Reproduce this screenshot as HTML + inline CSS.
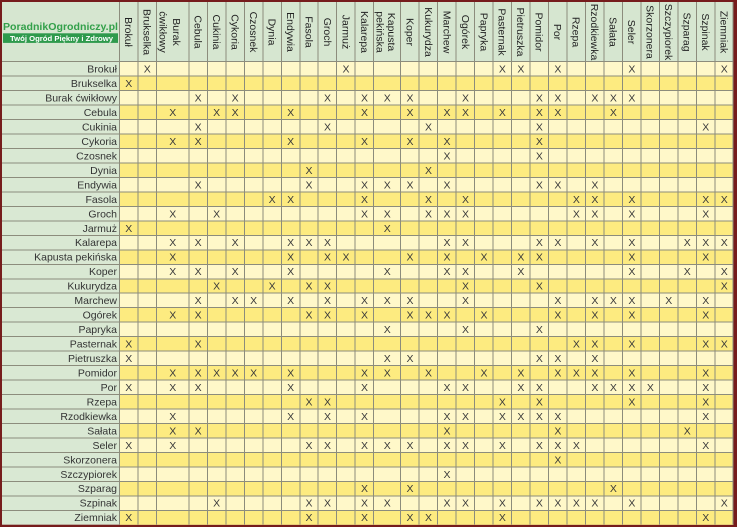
<!DOCTYPE html>
<html><head><meta charset="utf-8"><style>
html,body{margin:0;padding:0;background:#761c1c;}
svg{display:block;font-family:"Liberation Sans",Arial,sans-serif;}
.lbl{font-size:10.5px;fill:#333;text-anchor:end;}
.hd{font-size:10.5px;fill:#222;text-anchor:middle;}
.x{font-size:10.5px;fill:#3a3a3a;text-anchor:middle;}
</style></head><body>
<svg width="737" height="527" viewBox="0 0 737 527" xmlns="http://www.w3.org/2000/svg">
<rect x="0" y="0" width="737" height="527" fill="#761c1c"/>
<!-- header and label column -->
<rect x="2" y="2" width="731.5" height="59.7" fill="#d6e6d0"/>
<rect x="2" y="61.7" width="117.5" height="463" fill="#d9e8d3"/>
<!-- body light -->
<rect x="119.5" y="61.7" width="614" height="463" fill="#fff8c9"/>
<!-- yellow rows -->
<g fill="#fdeb80">
<rect x="119.5" y="76.17" width="614" height="14.47"/>
<rect x="119.5" y="105.11" width="614" height="14.47"/>
<rect x="119.5" y="134.05" width="614" height="14.47"/>
<rect x="119.5" y="162.99" width="614" height="14.47"/>
<rect x="119.5" y="191.93" width="614" height="14.47"/>
<rect x="119.5" y="220.87" width="614" height="14.47"/>
<rect x="119.5" y="249.81" width="614" height="14.47"/>
<rect x="119.5" y="278.75" width="614" height="14.47"/>
<rect x="119.5" y="307.69" width="614" height="14.47"/>
<rect x="119.5" y="336.63" width="614" height="14.47"/>
<rect x="119.5" y="365.57" width="614" height="14.47"/>
<rect x="119.5" y="394.51" width="614" height="14.47"/>
<rect x="119.5" y="423.45" width="614" height="14.47"/>
<rect x="119.5" y="452.39" width="614" height="14.47"/>
<rect x="119.5" y="481.33" width="614" height="14.47"/>
<rect x="119.5" y="510.27" width="614" height="14.47"/>
</g>
<!-- grid -->
<path stroke="#8c8c7c" stroke-width="1" fill="none" shape-rendering="crispEdges" d="
M2 61.7H733.5M2 76.17H733.5M2 90.64H733.5M2 105.11H733.5M2 119.58H733.5M2 134.05H733.5M2 148.52H733.5M2 162.99H733.5
M2 177.46H733.5M2 191.93H733.5M2 206.4H733.5M2 220.87H733.5M2 235.34H733.5M2 249.81H733.5M2 264.28H733.5M2 278.75H733.5
M2 293.22H733.5M2 307.69H733.5M2 322.16H733.5M2 336.63H733.5M2 351.1H733.5M2 365.57H733.5M2 380.04H733.5M2 394.51H733.5
M2 408.98H733.5M2 423.45H733.5M2 437.92H733.5M2 452.39H733.5M2 466.86H733.5M2 481.33H733.5M2 495.8H733.5M2 510.27H733.5
M119.5 2V524.7M138 2V524.7M156.5 2V524.7M188.8 2V524.7M207.3 2V524.7M225.8 2V524.7M244.3 2V524.7M262.8 2V524.7
M281.3 2V524.7M299.8 2V524.7M318.2 2V524.7M336.7 2V524.7M355.2 2V524.7M373.7 2V524.7M400.7 2V524.7M419.2 2V524.7
M437.7 2V524.7M456.2 2V524.7M474.7 2V524.7M493.2 2V524.7M511.6 2V524.7M530.1 2V524.7M548.6 2V524.7M567.1 2V524.7
M585.6 2V524.7M604.1 2V524.7M622.6 2V524.7M641.1 2V524.7M659.6 2V524.7M678 2V524.7M696.5 2V524.7M715 2V524.7M733 2V524.7"/>
<!-- logo -->
<text x="3" y="30" font-size="10.3" font-weight="bold" fill="#33a04a" textLength="115" lengthAdjust="spacingAndGlyphs">PoradnikOgrodniczy.pl</text>
<rect x="3" y="33.3" width="115" height="9.6" fill="#2e9a4c"/>
<text x="10" y="41" font-size="7.6" font-weight="bold" fill="#ffffff" textLength="103" lengthAdjust="spacingAndGlyphs">Twój Ogród Piękny i Zdrowy</text>
<!-- column headers -->
<g class="hd">
<text transform="translate(128.8,32) rotate(90)" dy="0.35em">Brokuł</text>
<text transform="translate(147.3,32) rotate(90)" dy="0.35em">Brukselka</text>
<text transform="translate(176.5,32) rotate(90)" dy="0.35em">Burak</text>
<text transform="translate(163,32) rotate(90)" dy="0.35em">ćwikłowy</text>
<text transform="translate(198.1,32) rotate(90)" dy="0.35em">Cebula</text>
<text transform="translate(216.6,32) rotate(90)" dy="0.35em">Cukinia</text>
<text transform="translate(235.1,32) rotate(90)" dy="0.35em">Cykoria</text>
<text transform="translate(253.6,32) rotate(90)" dy="0.35em">Czosnek</text>
<text transform="translate(272.1,32) rotate(90)" dy="0.35em">Dynia</text>
<text transform="translate(290.6,32) rotate(90)" dy="0.35em">Endywia</text>
<text transform="translate(309,32) rotate(90)" dy="0.35em">Fasola</text>
<text transform="translate(327.5,32) rotate(90)" dy="0.35em">Groch</text>
<text transform="translate(346,32) rotate(90)" dy="0.35em">Jarmuż</text>
<text transform="translate(364.5,32) rotate(90)" dy="0.35em">Kalarepa</text>
<text transform="translate(391.5,32) rotate(90)" dy="0.35em">Kapusta</text>
<text transform="translate(380,32) rotate(90)" dy="0.35em">pekińska</text>
<text transform="translate(410,32) rotate(90)" dy="0.35em">Koper</text>
<text transform="translate(428.5,32) rotate(90)" dy="0.35em">Kukurydza</text>
<text transform="translate(447,32) rotate(90)" dy="0.35em">Marchew</text>
<text transform="translate(465.5,32) rotate(90)" dy="0.35em">Ogórek</text>
<text transform="translate(484,32) rotate(90)" dy="0.35em">Papryka</text>
<text transform="translate(502.4,32) rotate(90)" dy="0.35em">Pasternak</text>
<text transform="translate(520.9,32) rotate(90)" dy="0.35em">Pietruszka</text>
<text transform="translate(539.4,32) rotate(90)" dy="0.35em">Pomidor</text>
<text transform="translate(557.9,32) rotate(90)" dy="0.35em">Por</text>
<text transform="translate(576.4,32) rotate(90)" dy="0.35em">Rzepa</text>
<text transform="translate(594.9,32) rotate(90)" dy="0.35em">Rzodkiewka</text>
<text transform="translate(613.4,32) rotate(90)" dy="0.35em">Sałata</text>
<text transform="translate(631.9,32) rotate(90)" dy="0.35em">Seler</text>
<text transform="translate(650.4,32) rotate(90)" dy="0.35em">Skorzonera</text>
<text transform="translate(668.8,32) rotate(90)" dy="0.35em">Szczypiorek</text>
<text transform="translate(687.3,32) rotate(90)" dy="0.35em">Szparag</text>
<text transform="translate(705.8,32) rotate(90)" dy="0.35em">Szpinak</text>
<text transform="translate(724.3,32) rotate(90)" dy="0.35em">Ziemniak</text>
</g>
<!-- row labels -->
<g class="lbl">
<text x="117" y="72.6">Brokuł</text>
<text x="117" y="87.07">Brukselka</text>
<text x="117" y="101.54">Burak ćwikłowy</text>
<text x="117" y="116.01">Cebula</text>
<text x="117" y="130.48">Cukinia</text>
<text x="117" y="144.95">Cykoria</text>
<text x="117" y="159.42">Czosnek</text>
<text x="117" y="173.89">Dynia</text>
<text x="117" y="188.36">Endywia</text>
<text x="117" y="202.83">Fasola</text>
<text x="117" y="217.3">Groch</text>
<text x="117" y="231.77">Jarmuż</text>
<text x="117" y="246.24">Kalarepa</text>
<text x="117" y="260.71">Kapusta pekińska</text>
<text x="117" y="275.18">Koper</text>
<text x="117" y="289.65">Kukurydza</text>
<text x="117" y="304.12">Marchew</text>
<text x="117" y="318.59">Ogórek</text>
<text x="117" y="333.06">Papryka</text>
<text x="117" y="347.53">Pasternak</text>
<text x="117" y="362">Pietruszka</text>
<text x="117" y="376.47">Pomidor</text>
<text x="117" y="390.94">Por</text>
<text x="117" y="405.41">Rzepa</text>
<text x="117" y="419.88">Rzodkiewka</text>
<text x="117" y="434.35">Sałata</text>
<text x="117" y="448.82">Seler</text>
<text x="117" y="463.29">Skorzonera</text>
<text x="117" y="477.76">Szczypiorek</text>
<text x="117" y="492.23">Szparag</text>
<text x="117" y="506.7">Szpinak</text>
<text x="117" y="521.17">Ziemniak</text>
</g>
<!-- marks -->
<g class="x">
<text x="147.3 346 502.4 520.9 557.9 631.9 724.3" y="72.6">XXXXXXX</text>
<text x="128.8" y="87.07">X</text>
<text x="198.1 235.1 327.5 364.5 387.2 410 465.5 539.4 557.9 594.9 613.4 631.9" y="101.54">XXXXXXXXXXXX</text>
<text x="172.7 216.6 235.1 290.6 364.5 410 447 465.5 502.4 539.4 557.9 613.4" y="116.01">XXXXXXXXXXXX</text>
<text x="198.1 327.5 428.5 539.4 705.8" y="130.48">XXXXX</text>
<text x="172.7 198.1 290.6 364.5 410 447 539.4" y="144.95">XXXXXXX</text>
<text x="447 539.4" y="159.42">XX</text>
<text x="309 428.5" y="173.89">XX</text>
<text x="198.1 309 364.5 387.2 410 447 539.4 557.9 594.9" y="188.36">XXXXXXXXX</text>
<text x="272.1 290.6 364.5 428.5 465.5 576.4 594.9 631.9 705.8 724.3" y="202.83">XXXXXXXXXX</text>
<text x="172.7 216.6 364.5 387.2 428.5 447 465.5 576.4 594.9 631.9 705.8" y="217.3">XXXXXXXXXXX</text>
<text x="128.8 387.2" y="231.77">XX</text>
<text x="172.7 198.1 235.1 290.6 309 327.5 447 465.5 539.4 557.9 594.9 631.9 687.3 705.8 724.3" y="246.24">XXXXXXXXXXXXXXX</text>
<text x="172.7 290.6 327.5 346 410 447 484 520.9 539.4 631.9 705.8" y="260.71">XXXXXXXXXXX</text>
<text x="172.7 198.1 235.1 290.6 387.2 447 465.5 520.9 631.9 687.3 724.3" y="275.18">XXXXXXXXXXX</text>
<text x="216.6 272.1 309 327.5 465.5 539.4 724.3" y="289.65">XXXXXXX</text>
<text x="198.1 235.1 253.6 290.6 327.5 364.5 387.2 410 465.5 557.9 594.9 613.4 631.9 668.8 705.8" y="304.12">XXXXXXXXXXXXXXX</text>
<text x="172.7 198.1 309 327.5 364.5 410 428.5 447 484 557.9 594.9 631.9 705.8" y="318.59">XXXXXXXXXXXXX</text>
<text x="387.2 465.5 539.4" y="333.06">XXX</text>
<text x="128.8 198.1 576.4 594.9 631.9 705.8 724.3" y="347.53">XXXXXXX</text>
<text x="128.8 387.2 410 539.4 557.9 594.9" y="362">XXXXXX</text>
<text x="172.7 198.1 216.6 235.1 253.6 290.6 364.5 387.2 428.5 484 520.9 557.9 576.4 594.9 631.9 705.8" y="376.47">XXXXXXXXXXXXXXXX</text>
<text x="128.8 172.7 198.1 290.6 364.5 447 465.5 520.9 539.4 594.9 613.4 631.9 650.4 705.8" y="390.94">XXXXXXXXXXXXXX</text>
<text x="309 327.5 502.4 539.4 631.9 705.8" y="405.41">XXXXXX</text>
<text x="172.7 290.6 327.5 364.5 447 465.5 502.4 520.9 539.4 557.9 705.8" y="419.88">XXXXXXXXXXX</text>
<text x="172.7 198.1 447 557.9 687.3" y="434.35">XXXXX</text>
<text x="128.8 172.7 309 327.5 364.5 387.2 410 447 465.5 502.4 539.4 557.9 576.4 705.8" y="448.82">XXXXXXXXXXXXXX</text>
<text x="557.9" y="463.29">X</text>
<text x="447" y="477.76">X</text>
<text x="364.5 410 613.4" y="492.23">XXX</text>
<text x="216.6 309 327.5 364.5 387.2 447 465.5 502.4 539.4 557.9 576.4 594.9 631.9 724.3" y="506.7">XXXXXXXXXXXXXX</text>
<text x="128.8 309 364.5 410 428.5 502.4 705.8" y="521.17">XXXXXXX</text>
</g>
</svg>
</body></html>
